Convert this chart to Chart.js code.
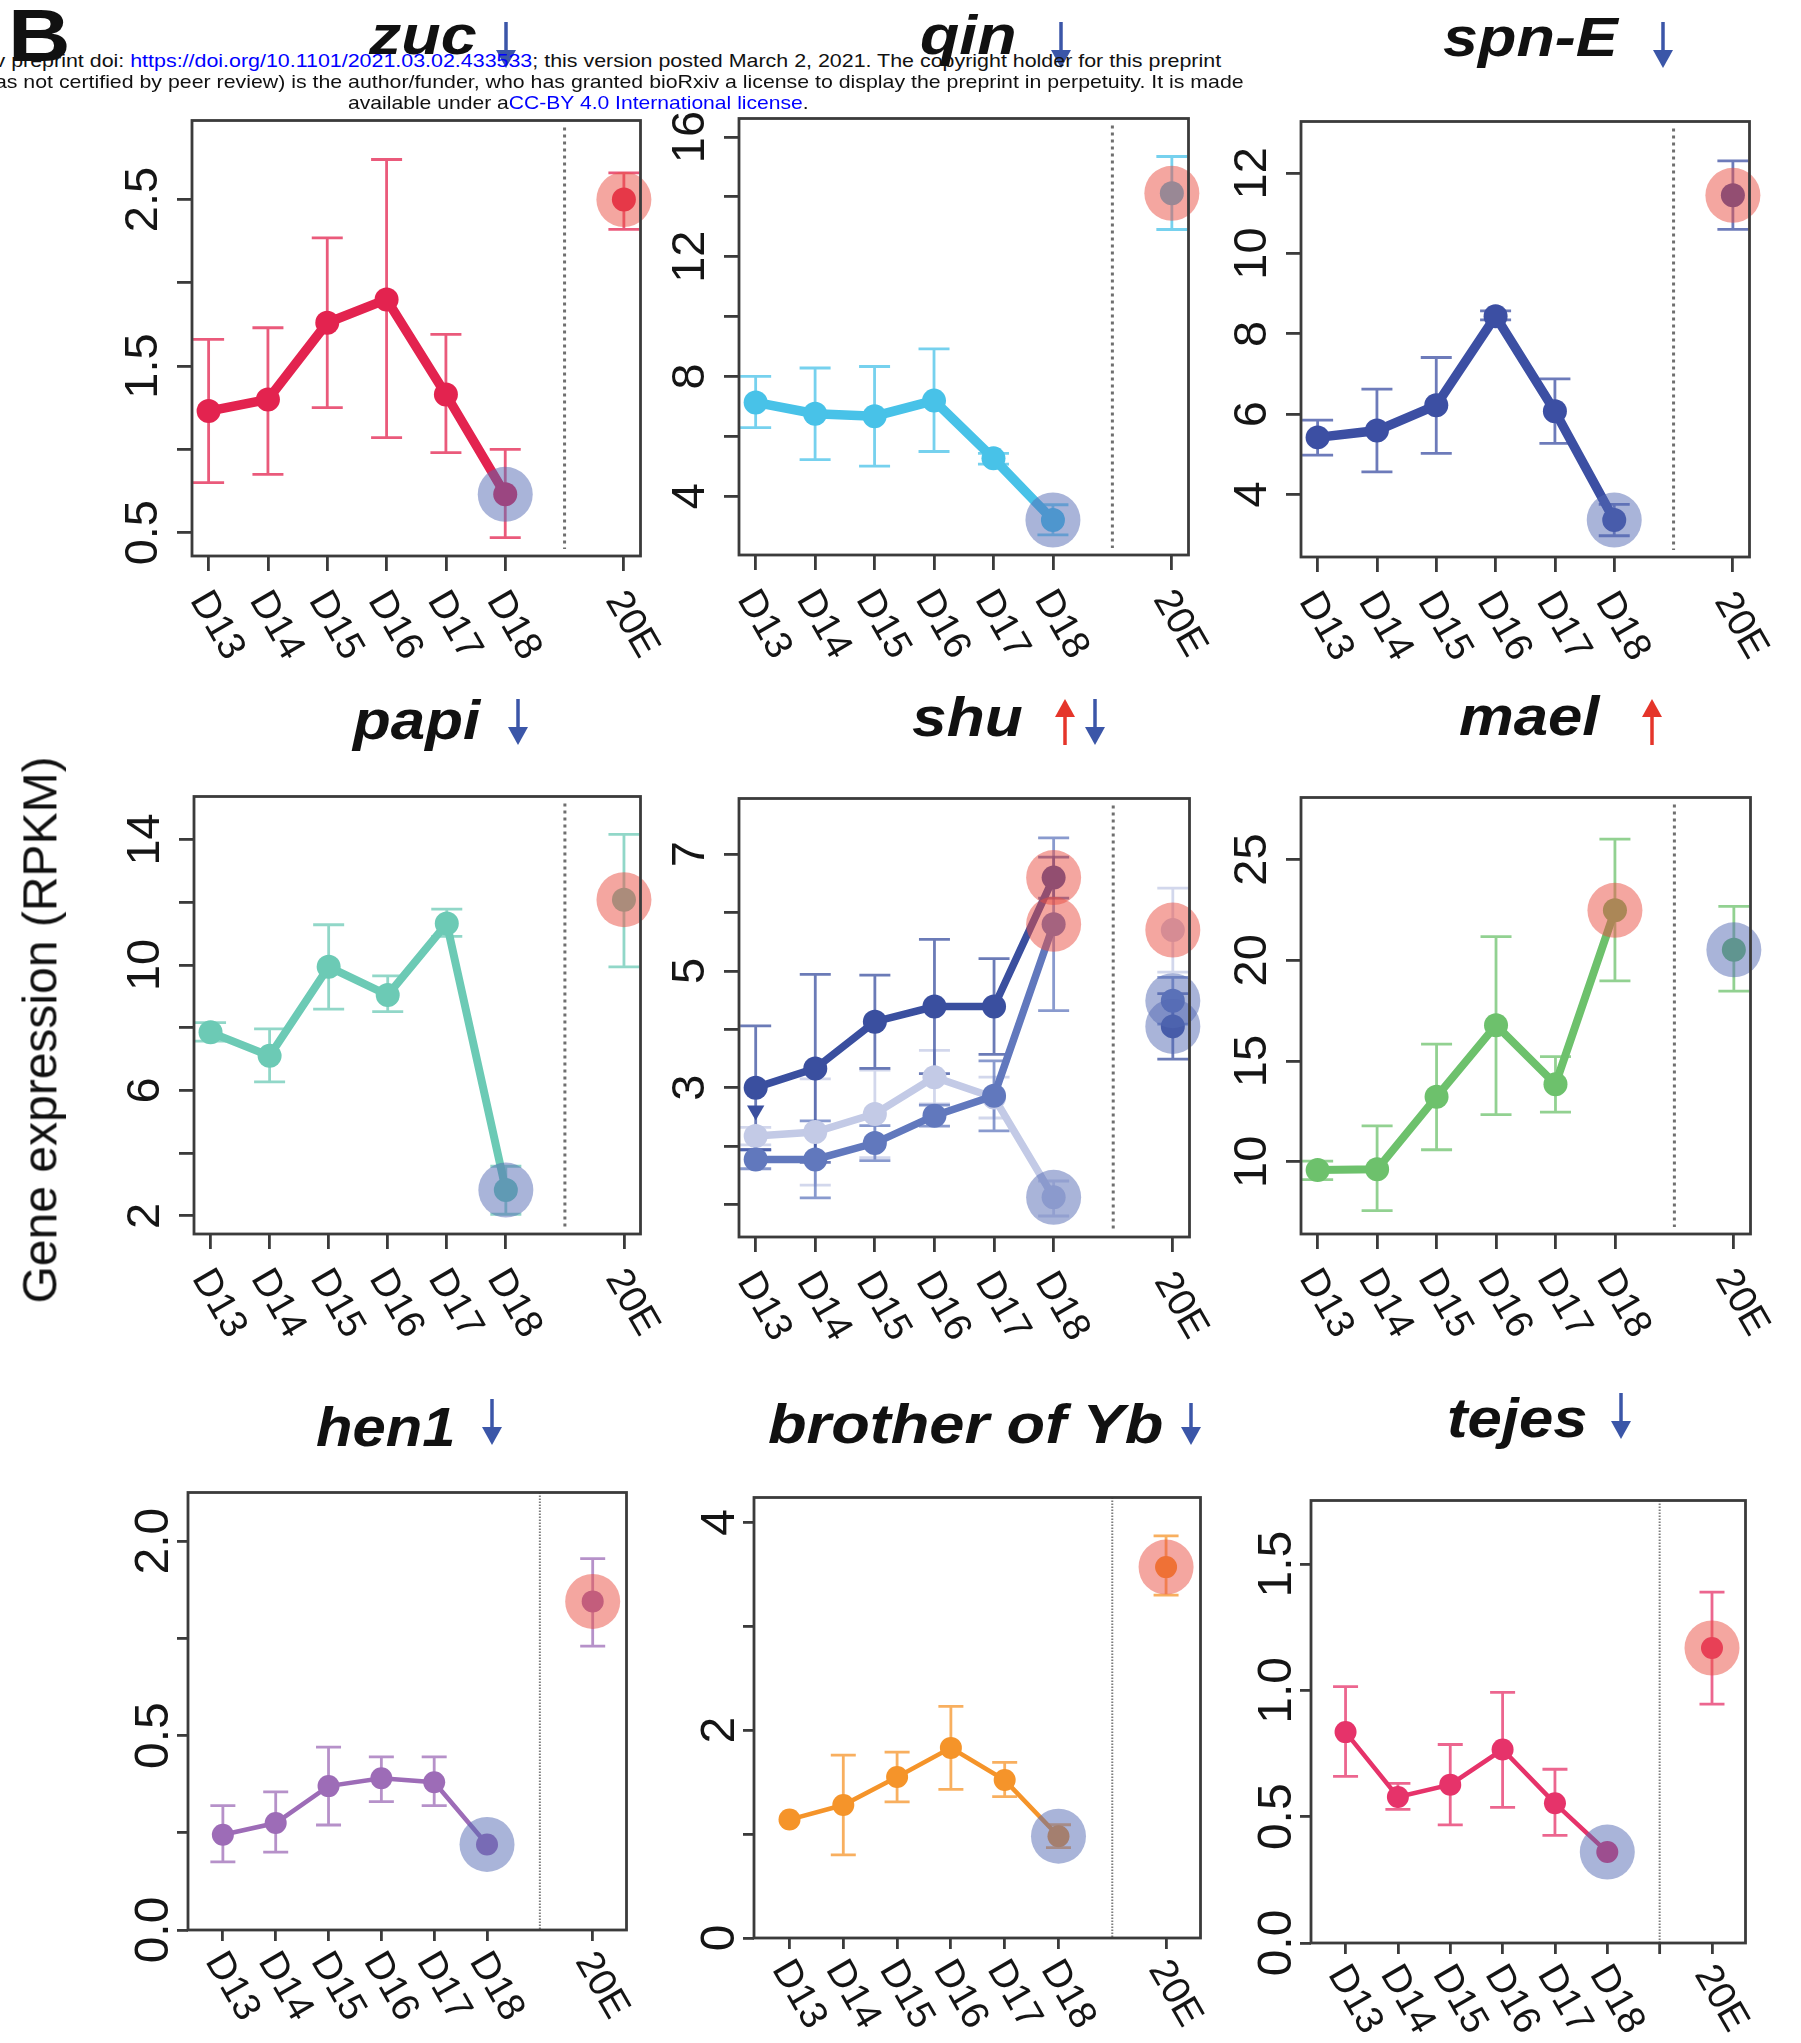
<!DOCTYPE html>
<html>
<head>
<meta charset="utf-8">
<script src="https://cdn.jsdelivr.net/npm/chart.js@4.4.1/dist/chart.umd.min.js"></script>
<style>
  body { margin: 0; background: #fff; }
  #page { position: relative; width: 1801px; height: 2043px; overflow: hidden; background: #fff;
          font-family: "Liberation Sans", Arial, sans-serif; }
  #page canvas { position: absolute; }
  .txt { position: absolute; white-space: nowrap; transform-origin: 0 0; }
  .arrow { position: absolute; overflow: visible; }
</style>
</head>
<body>
<div id="page"></div>
<script>
// categories (x axis)
const xLabels = ['D13', 'D14', 'D15', 'D16', 'D17', 'D18', '20E'];
const xPos = [0, 1, 2, 3, 4, 5, 7];

// values: D13..D18 then 20E (mean, lower and upper end of the error bar)
const zucMean = [1.23, 1.30, 1.76, 1.90, 1.33, 0.73, 2.50];
const zucLow  = [0.80, 0.85, 1.25, 1.07, 0.98, 0.47, 2.32];
const zucHigh = [1.66, 1.73, 2.27, 2.74, 1.69, 1.00, 2.66];

const qinMean = [7.13, 6.75, 6.67, 7.19, 5.26, 3.20, 14.12];
const qinLow  = [6.29, 5.22, 5.00, 5.49, 5.07, 2.70, 12.91];
const qinHigh = [8.00, 8.28, 8.33, 8.92, 5.43, 3.71, 15.35];

const spnEMean = [5.42, 5.59, 6.22, 8.44, 6.07, 3.36, 11.45];
const spnELow  = [4.98, 4.56, 5.02, 8.35, 5.27, 2.97, 10.60];
const spnEHigh = [5.85, 6.62, 7.41, 8.57, 6.88, 3.75, 12.31];

const papiMean = [7.85, 7.10, 9.94, 9.04, 11.32, 2.82, 12.08];
const papiLow  = [7.57, 6.27, 8.59, 8.51, 10.91, 2.05, 9.94];
const papiHigh = [8.16, 7.96, 11.28, 9.65, 11.78, 3.58, 14.16];

const shuAMean = [3.00, 3.33, 4.13, 4.39, 4.39, 6.60, 4.05];
const shuALow  = [1.94, 1.72, 3.33, 3.24, 3.57, 6.25, 3.49];
const shuAHigh = [4.06, 4.94, 4.93, 5.54, 5.21, 6.95, 4.61];
const shuBMean = [1.77, 1.77, 2.05, 2.52, 2.86, 5.80, 4.49];
const shuBLow  = [1.61, 1.11, 1.75, 2.34, 2.26, 4.32, 4.09];
const shuBHigh = [1.93, 2.43, 2.35, 2.70, 3.46, 7.28, 4.89];
const shuCMean = [2.17, 2.24, 2.55, 3.18, 2.83, 1.12, 5.70];
const shuCLow  = [2.02, 1.33, 1.80, 2.72, 2.48, 0.80, 4.98];
const shuCHigh = [2.32, 3.15, 3.30, 3.64, 3.18, 1.40, 6.42];
const shuMarker = [2.61]; // small triangle at D13

const maelMean = [9.59, 9.63, 13.23, 16.78, 13.85, 22.48, 20.52];
const maelLow  = [9.12, 7.58, 10.60, 12.34, 12.47, 18.98, 18.47];
const maelHigh = [10.04, 11.79, 15.84, 21.18, 15.22, 26.01, 22.68];

const hen1Mean = [0.49, 0.55, 0.74, 0.78, 0.76, 0.44, 1.69];
const hen1Low  = [0.35, 0.40, 0.54, 0.66, 0.64, 0.44, 1.46];
const hen1High = [0.64, 0.71, 0.94, 0.89, 0.89, 0.44, 1.91];

const boyMean = [1.14, 1.28, 1.55, 1.83, 1.52, 0.98, 3.57];
const boyLow  = [1.14, 0.80, 1.31, 1.43, 1.36, 0.87, 3.30];
const boyHigh = [1.14, 1.76, 1.79, 2.23, 1.69, 1.09, 3.87];

const tejesMean = [0.835, 0.578, 0.627, 0.766, 0.553, 0.36, 1.168];
const tejesLow  = [0.660, 0.529, 0.468, 0.537, 0.426, 0.36, 0.946];
const tejesHigh = [1.015, 0.632, 0.786, 0.992, 0.688, 0.36, 1.389];

// highlighted points: [halo colour, index into xLabels]
const haloDownUp = [['blue', 5], ['red', 6]];
const haloUpDown = [['red', 5], ['blue', 6]];

// y ticks and their printed labels
const zucTicks = [0.5, 1, 1.5, 2, 2.5];        const zucTickLabels = ['0.5', '', '1.5', '', '2.5'];
const qinTicks = [4, 6, 8, 10, 12, 14, 16];    const qinTickLabels = ['4', '', '8', '', '12', '', '16'];
const spnETicks = [4, 6, 8, 10, 12];           const spnETickLabels = ['4', '6', '8', '10', '12'];
const papiTicks = [2, 4, 6, 8, 10, 12, 14];    const papiTickLabels = ['2', '', '6', '', '10', '', '14'];
const shuTicks = [1, 2, 3, 4, 5, 6, 7];        const shuTickLabels = ['', '', '3', '', '5', '', '7'];
const maelTicks = [10, 15, 20, 25];            const maelTickLabels = ['10', '15', '20', '25'];
const hen1Ticks = [0, 0.5, 1, 1.5, 2];         const hen1TickLabels = ['0.0', '', '0.5', '', '2.0'];
const boyTicks = [0, 1, 2, 3, 4];              const boyTickLabels = ['0', '', '2', '', '4'];
const tejesTicks = [0, 0.5, 1, 1.5];           const tejesTickLabels = ['0.0', '0.5', '1.0', '1.5'];

const AXIS = '#3b3b3b';
const HALO = { blue: 'rgba(83,105,180,0.5)', red: 'rgba(233,77,65,0.5)' };

function rgba(hex, a) {
  const n = parseInt(hex.slice(1), 16);
  return `rgba(${n >> 16},${(n >> 8) & 255},${n & 255},${a})`;
}

const panels = [
  { box: [192, 113, 648, 556], y: [0.36, 2.974], ticks: zucTicks, labels: zucTickLabels, row: 1,
    series: [{ mean: zucMean, low: zucLow, high: zucHigh, color: '#E3234F', halos: haloDownUp }] },
  { box: [739, 111, 1196, 555], y: [2.03, 16.62], ticks: qinTicks, labels: qinTickLabels, row: 1,
    series: [{ mean: qinMean, low: qinLow, high: qinHigh, color: '#48C2E8', halos: haloDownUp }] },
  { box: [1301, 114, 1757, 557], y: [2.44, 13.29], ticks: spnETicks, labels: spnETickLabels, row: 1,
    series: [{ mean: spnEMean, low: spnELow, high: spnEHigh, color: '#3C4FA3', halos: haloDownUp }] },
  { box: [194, 789, 648, 1234], y: [1.42, 15.37], ticks: papiTicks, labels: papiTickLabels, row: 2, lw: 8,
    series: [{ mean: papiMean, low: papiLow, high: papiHigh, color: '#6CCAB5', halos: haloDownUp }] },
  { box: [739, 791, 1197, 1237], y: [0.44, 7.956], ticks: shuTicks, labels: shuTickLabels, row: 2, lw: 7.5,
    marker: shuMarker,
    series: [
      { mean: shuCMean, low: shuCLow, high: shuCHigh, color: '#C3CAE6', halos: haloDownUp, order: 3 },
      { mean: shuBMean, low: shuBLow, high: shuBHigh, color: '#6178BD', halos: haloUpDown, order: 2 },
      { mean: shuAMean, low: shuALow, high: shuAHigh, color: '#3A4F9F', halos: haloUpDown, order: 1 }
    ] },
  { box: [1301, 790, 1758, 1234], y: [6.42, 28.08], ticks: maelTicks, labels: maelTickLabels, row: 2, lw: 8,
    series: [{ mean: maelMean, low: maelLow, high: maelHigh, color: '#6DC16C', halos: haloUpDown }] },
  { box: [188, 1485, 634, 1930], y: [0, 2.25], ticks: hen1Ticks, labels: hen1TickLabels, row: 3,
    series: [{ mean: hen1Mean, low: hen1Low, high: hen1High, color: '#9D6CB7', halos: haloDownUp }] },
  { box: [754, 1490, 1208, 1938], y: [0, 4.24], ticks: boyTicks, labels: boyTickLabels, row: 3,
    series: [{ mean: boyMean, low: boyLow, high: boyHigh, color: '#F5942A', halos: haloDownUp }] },
  { box: [1311, 1493, 1753, 1943], y: [0, 1.752], ticks: tejesTicks, labels: tejesTickLabels, row: 3, sepTick: true,
    series: [{ mean: tejesMean, low: tejesLow, high: tejesHigh, color: '#E6336A', halos: haloDownUp }] }
];

const page = document.getElementById('page');

function rPlugin(p) {
  const bottomRow = p.row === 3;
  return {
    id: 'rstyle',
    beforeDatasetsDraw(chart) {
      const { ctx, chartArea: a, scales: { x, y } } = chart;
      ctx.save();
      // dotted separator between D18 and 20E
      const sx = x.getPixelForValue(6);
      ctx.strokeStyle = bottomRow ? '#7d7d7d' : '#6f6f6f';
      ctx.lineWidth = bottomRow ? 2 : 3;
      ctx.setLineDash(bottomRow ? [1.5, 1.5] : [3, 4]);
      const inset = bottomRow ? 0 : 7;
      ctx.beginPath();
      ctx.moveTo(sx, a.top + inset);
      ctx.lineTo(sx, a.bottom - inset);
      ctx.stroke();
      ctx.setLineDash([]);
      // error bars
      const cap = bottomRow ? 12.5 : 15.5;
      p.series.forEach(s => {
        ctx.strokeStyle = rgba(s.color, 0.75);
        ctx.lineWidth = 2.8;
        s.mean.forEach((m, i) => {
          if (s.low[i] === s.high[i]) return;
          const px = x.getPixelForValue(xPos[i]);
          const y1 = y.getPixelForValue(s.low[i]);
          const y2 = y.getPixelForValue(s.high[i]);
          ctx.beginPath();
          ctx.moveTo(px, y1); ctx.lineTo(px, y2);
          ctx.moveTo(px - cap, y1); ctx.lineTo(px + cap, y1);
          ctx.moveTo(px - cap, y2); ctx.lineTo(px + cap, y2);
          ctx.stroke();
        });
      });
      ctx.restore();
    },
    afterDraw(chart) {
      const { ctx, chartArea: a, scales: { x, y } } = chart;
      ctx.save();
      // plot box
      ctx.strokeStyle = AXIS;
      ctx.lineWidth = 2.8;
      ctx.strokeRect(a.left, a.top, a.right - a.left, a.bottom - a.top);
      if (p.sepTick) {
        const sx = x.getPixelForValue(6);
        ctx.beginPath(); ctx.moveTo(sx, a.bottom); ctx.lineTo(sx, a.bottom + 11); ctx.stroke();
      }
      ctx.fillStyle = '#151515';
      // y tick labels, parallel to the axis
      ctx.font = (bottomRow ? 48 : 47) + 'px "Liberation Sans", Arial, sans-serif';
      ctx.textAlign = 'center';
      ctx.textBaseline = 'alphabetic';
      p.ticks.forEach((v, i) => {
        if (!p.labels[i]) return;
        ctx.save();
        ctx.translate(a.left - (bottomRow ? 20 : 35), y.getPixelForValue(v));
        ctx.rotate(-Math.PI / 2);
        ctx.fillText(p.labels[i], 0, 0);
        ctx.restore();
      });
      // x tick labels, slanted
      ctx.font = '39px "Liberation Sans", Arial, sans-serif';
      ctx.textAlign = 'left';
      xLabels.forEach((lab, i) => {
        ctx.save();
        ctx.translate(x.getPixelForValue(xPos[i]) - (bottomRow ? 18 : 19), a.bottom + (bottomRow ? 31 : 44));
        ctx.rotate(Math.PI / 3);
        ctx.fillText(lab, 0, 0);
        ctx.restore();
      });
      ctx.restore();
    }
  };
}

function makePanel(p) {
  const padL = 130, padT = 20, padR = 20, padB = 130;
  const W = p.box[2] - p.box[0], H = p.box[3] - p.box[1];
  const cv = document.createElement('canvas');
  cv.width = W + padL + padR;
  cv.height = H + padT + padB;
  cv.style.left = (p.box[0] - padL) + 'px';
  cv.style.top = (p.box[1] - padT) + 'px';
  page.appendChild(cv);

  const bottomRow = p.row === 3;
  const lw = p.lw || (bottomRow ? 4.5 : 9.5);
  const r = bottomRow ? 11 : 12;
  const datasets = [];
  p.series.forEach(s => {
    datasets.push({
      data: s.mean.slice(0, 6).map((v, i) => ({ x: xPos[i], y: v })),
      borderColor: s.color, borderWidth: lw, tension: 0,
      pointRadius: r, pointBackgroundColor: s.color, pointBorderWidth: 0,
      order: s.order || 1
    });
    datasets.push({
      data: [{ x: xPos[6], y: s.mean[6] }], showLine: false,
      pointRadius: r, pointBackgroundColor: s.color, pointBorderWidth: 0,
      order: s.order || 1
    });
  });
  if (p.marker) {
    datasets.push({
      data: p.marker.map((v, i) => ({ x: xPos[i], y: v })), showLine: false,
      pointStyle: 'triangle', pointRotation: 180, pointRadius: 10,
      pointBackgroundColor: '#3A4F9F', pointBorderWidth: 0, order: 1
    });
  }
  ['blue', 'red'].forEach(c => {
    const pts = [];
    p.series.forEach(s => s.halos.forEach(h => {
      if (h[0] === c) pts.push({ x: xPos[h[1]], y: s.mean[h[1]] });
    }));
    datasets.push({
      data: pts, showLine: false, pointRadius: 27.5, pointHoverRadius: 27.5,
      pointBackgroundColor: HALO[c], pointBorderWidth: 0, order: -1, clip: false
    });
  });

  const bottomAxis = bottomRow ? [-0.66, 7.64] : [-0.28, 7.28];
  const tickLen = bottomRow ? 11 : 15;
  new Chart(cv, {
    type: 'line',
    data: { datasets },
    options: {
      responsive: false, animation: false, devicePixelRatio: 1,
      layout: { padding: { left: 0, top: padT, right: padR, bottom: 0 } },
      plugins: { legend: { display: false }, tooltip: { enabled: false } },
      scales: {
        x: {
          type: 'linear', min: bottomAxis[0], max: bottomAxis[1],
          afterFit: s => { s.height = padB; },
          afterBuildTicks: s => { s.ticks = xPos.map(v => ({ value: v })); },
          ticks: { display: false },
          grid: { drawOnChartArea: false, drawTicks: true, tickLength: tickLen, color: AXIS, lineWidth: 2.8 },
          border: { display: false }
        },
        y: {
          type: 'linear', min: p.y[0], max: p.y[1],
          afterFit: s => { s.width = padL; },
          afterBuildTicks: s => { s.ticks = p.ticks.map(v => ({ value: v })); },
          ticks: { display: false },
          grid: { drawOnChartArea: false, drawTicks: true, tickLength: tickLen, color: AXIS, lineWidth: 2.8 },
          border: { display: false }
        }
      }
    },
    plugins: [rPlugin(p)]
  });
}

panels.forEach(makePanel);

// text helpers
function addText(html, o) {
  const el = document.createElement('div');
  el.className = 'txt';
  el.innerHTML = html;
  el.style.font = o.font;
  el.style.fontSize = o.size + 'px';
  el.style.lineHeight = o.size + 'px';
  el.style.color = o.color || '#111';
  if (o.z) el.style.zIndex = o.z;
  page.appendChild(el);
  const w = el.offsetWidth;
  const target = o.width || w;
  const left = o.cx !== undefined ? o.cx - target / 2 : o.x0;
  el.style.left = left + 'px';
  el.style.top = (o.base - 0.8465 * o.size) + 'px';
  el.style.transform = 'scaleX(' + (target / w) + ')';
  return el;
}

function addArrow(x, y1, y2, color, up) {
  const svgNS = 'http://www.w3.org/2000/svg';
  const svg = document.createElementNS(svgNS, 'svg');
  svg.setAttribute('class', 'arrow');
  svg.setAttribute('width', 24);
  svg.setAttribute('height', y2 - y1);
  svg.style.left = (x - 12) + 'px';
  svg.style.top = y1 + 'px';
  const h = y2 - y1;
  const line = document.createElementNS(svgNS, 'line');
  line.setAttribute('x1', 12); line.setAttribute('x2', 12);
  line.setAttribute('y1', up ? 14 : 0); line.setAttribute('y2', up ? h : h - 14);
  line.setAttribute('stroke', color); line.setAttribute('stroke-width', 3.5);
  const head = document.createElementNS(svgNS, 'polygon');
  head.setAttribute('points', up ? '2,18 22,18 12,0' : `2,${h - 18} 22,${h - 18} 12,${h}`);
  head.setAttribute('fill', color);
  svg.appendChild(line); svg.appendChild(head);
  page.appendChild(svg);
}

const BLUE = '#3B56A8', RED = '#E5352A';
const titleFont = 'italic bold 55px "Liberation Sans", Arial, sans-serif';
const titles = [
  ['zuc', 369, 477, 55], ['qin', 920, 1016, 55], ['spn-E', 1443, 1618, 57],
  ['papi', 353, 480, 740], ['shu', 912, 1023, 737], ['mael', 1459, 1599, 736],
  ['hen1', 316, 455, 1447], ['brother of Yb', 768, 1163, 1444], ['tejes', 1447, 1587, 1438]
];
titles.forEach(t => addText(t[0], { font: titleFont, size: 55, x0: t[1], width: t[2] - t[1], base: t[3] }));

addArrow(506, 22, 68, BLUE, false);
addArrow(1061, 22, 68, BLUE, false);
addArrow(1663, 22, 68, BLUE, false);
addArrow(518, 699, 745, BLUE, false);
addArrow(1065, 699, 745, RED, true);
addArrow(1095, 699, 745, BLUE, false);
addArrow(1652, 699, 745, RED, true);
addArrow(492, 1399, 1445, BLUE, false);
addArrow(1191, 1403, 1445, BLUE, false);
addArrow(1621, 1393, 1439, BLUE, false);

// panel letter
addText('B', { font: 'bold 74px "Liberation Sans", Arial, sans-serif', size: 74, x0: 8, width: 62, base: 62 });

// shared y axis title
const yt = addText('Gene expression (RPKM)', { font: '48px "Liberation Sans", Arial, sans-serif', size: 48, x0: 0, base: 40 });
(function () {
  const w = yt.offsetWidth;
  yt.style.transformOrigin = '50% 50%';
  yt.style.transform = 'rotate(-90deg)';
  yt.style.left = (40 - w / 2) + 'px';
  yt.style.top = (1030 - 24) + 'px';
})();

// preprint watermark lines
const hFont = '19px "Liberation Sans", Arial, sans-serif';
addText('bioRxiv preprint doi: <span style="color:#0000ff">https://doi.org/10.1101/2021.03.02.433533</span>; this version posted March 2, 2021. The copyright holder for this preprint',
  { font: hFont, size: 19, cx: 578, width: 1286, base: 67, z: 5 });
addText('(which was not certified by peer review) is the author/funder, who has granted bioRxiv a license to display the preprint in perpetuity. It is made',
  { font: hFont, size: 19, cx: 578, width: 1332, base: 88, z: 5 });
addText('available under a<span style="color:#0000ff">CC-BY 4.0 International license</span>.',
  { font: hFont, size: 19, cx: 578, width: 461, base: 109, z: 5 });
</script>
</body>
</html>
